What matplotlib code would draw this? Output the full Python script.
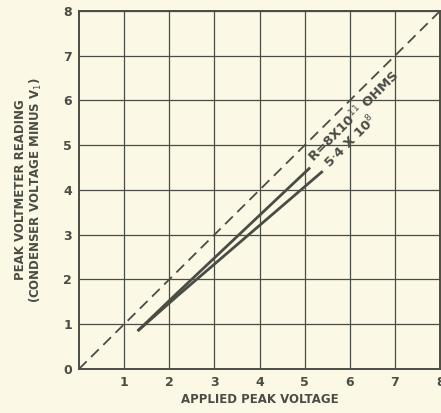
import numpy as np
import matplotlib.pyplot as plt

# readings
x_high = [1.3, 2.2, 5.12]     # R = 8x10^11 ohms
y_high = [0.85, 1.72, 4.5]
x_low = [1.3, 2.2, 5.4]       # R = 5.4x10^8
y_low = [0.85, 1.65, 4.42]
ref = [0, 8]                  # applied = reading
xticks = [1, 2, 3, 4, 5, 6, 7, 8]
yticks = [0, 1, 2, 3, 4, 5, 6, 7, 8]

bg = '#fbf8e6'
ink = '#4a4d44'

fig = plt.figure(figsize=(4.41, 4.13), dpi=100, facecolor=bg)
ax = fig.add_axes([0.179, 0.1065, 0.819, 0.867], facecolor=bg)

ax.plot(ref, ref, color=ink, lw=1.3, dashes=(6, 3.5))
ax.plot(x_high, y_high, color=ink, lw=2.0, solid_capstyle='butt')
ax.plot(x_low, y_low, color=ink, lw=2.0, solid_capstyle='butt')

ax.set_xlim(0, 8)
ax.set_ylim(0, 8)
ax.set_xticks(xticks)
ax.set_yticks(yticks)
ax.set_xticklabels([str(v) for v in xticks])
ax.set_yticklabels([str(v) for v in yticks])
ax.grid(True, color=ink, lw=0.9)
ax.tick_params(length=0, pad=5, labelsize=9, colors=ink)
for lab in ax.get_xticklabels() + ax.get_yticklabels():
    lab.set_fontweight('bold')
for s in ax.spines.values():
    s.set_color(ink)
    s.set_linewidth(1.4)

ax.text(5.25, 4.55, r'R=8X10$^{11}$ OHMS', rotation=45, rotation_mode='anchor',
        fontsize=9.5, fontweight='bold', color=ink, ha='left', va='bottom')
ax.text(5.62, 4.42, r'5$\cdot$4 X 10$^{8}$', rotation=45, rotation_mode='anchor',
        fontsize=9.5, fontweight='bold', color=ink, ha='left', va='bottom')

ax.set_xlabel('APPLIED PEAK VOLTAGE', fontsize=8.5, fontweight='bold', color=ink,
              labelpad=3)
ax.set_ylabel('PEAK VOLTMETER READING\n(CONDENSER VOLTAGE MINUS V$_1$)',
              fontsize=8.5, fontweight='bold', color=ink, labelpad=14,
              linespacing=1.1)

fig.savefig('out.png', dpi=100, facecolor=bg)
